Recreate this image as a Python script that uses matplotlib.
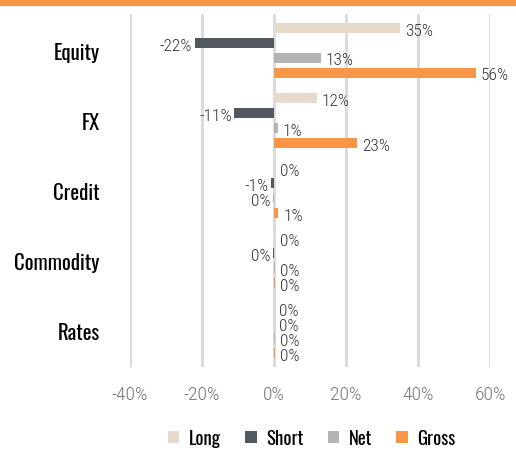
import numpy as np
import matplotlib
matplotlib.use('Agg')
from matplotlib import pyplot as plt
from matplotlib.patches import Rectangle

#data (percent)
categories = ['Equity', 'FX', 'Credit', 'Commodity', 'Rates']
series = ['Long', 'Short', 'Net', 'Gross']
long_vals = [35, 12, 0.2, 0.2, 0.1]
short_vals = [-22, -11, -0.8, -0.2, 0.1]
net_vals = [13, 1, -0.3, 0.3, 0.2]
gross_vals = [56, 23, 1.2, 0.4, 0.3]
colors = ['#E6DACB', '#525860', '#B2B4B6', '#F79646']
ticks = [-40, -20, 0, 20, 40, 60]

num_font = ['Roboto Condensed', 'DejaVu Sans']
cat_font = ['Oswald', 'Roboto Condensed', 'DejaVu Sans']
plt.rcParams['font.family'] = num_font

fig = plt.figure(figsize=(5.16, 4.52), dpi=100)
ax = fig.add_axes([130/516, 1-368/452, 360/516, 353/452])

#orange strip at the top
fig.patches.append(Rectangle((0, 1-6/452), 1, 6/452, transform=fig.transFigure,
                             color='#F79646', zorder=5))

y = np.arange(len(categories))
step = 0.214
height = 0.143
all_vals = [long_vals, short_vals, net_vals, gross_vals]
for i, (name, vals, c) in enumerate(zip(series, all_vals, colors)):
    pos = y + (i - 1.5) * step
    ax.barh(pos, vals, height=height, color=c, label=name, zorder=3)
    for p, v in zip(pos, vals):
        txt = '%d%%' % round(v)
        if v >= 0:
            ax.annotate(txt, (v, p), xytext=(3.5, -1.5), textcoords='offset points',
                        ha='left', va='center', fontsize=12.5, color='#333333',
                        fontweight='light')
        else:
            ax.annotate(txt, (v, p), xytext=(-2, -1.5), textcoords='offset points',
                        ha='right', va='center', fontsize=12.5, color='#333333',
                        fontweight='light')

ax.set_xlim(-40, 60)
ax.set_ylim(4.52, -0.52)
ax.set_xticks(ticks)
ax.set_xticklabels(['%d%%' % t for t in ticks], color='#777777', fontsize=14,
                   fontweight='light')
ax.set_yticks(y)
ax.set_yticklabels(categories, fontsize=15, color='black', family=cat_font)
ax.tick_params(axis='both', length=0)
ax.tick_params(axis='y', pad=22)
ax.tick_params(axis='x', pad=13)
ax.grid(axis='x', color='#D9D9D9', linewidth=2, zorder=0)
for s in ax.spines.values():
    s.set_visible(False)

fig.legend(loc='lower center', bbox_to_anchor=(0.604, -0.028), ncol=4, frameon=False,
           prop={'family': cat_font, 'size': 13.5}, handlelength=0.62, handleheight=0.62,
           handletextpad=0.5, columnspacing=1.3)

fig.savefig('out.png', dpi=100)
